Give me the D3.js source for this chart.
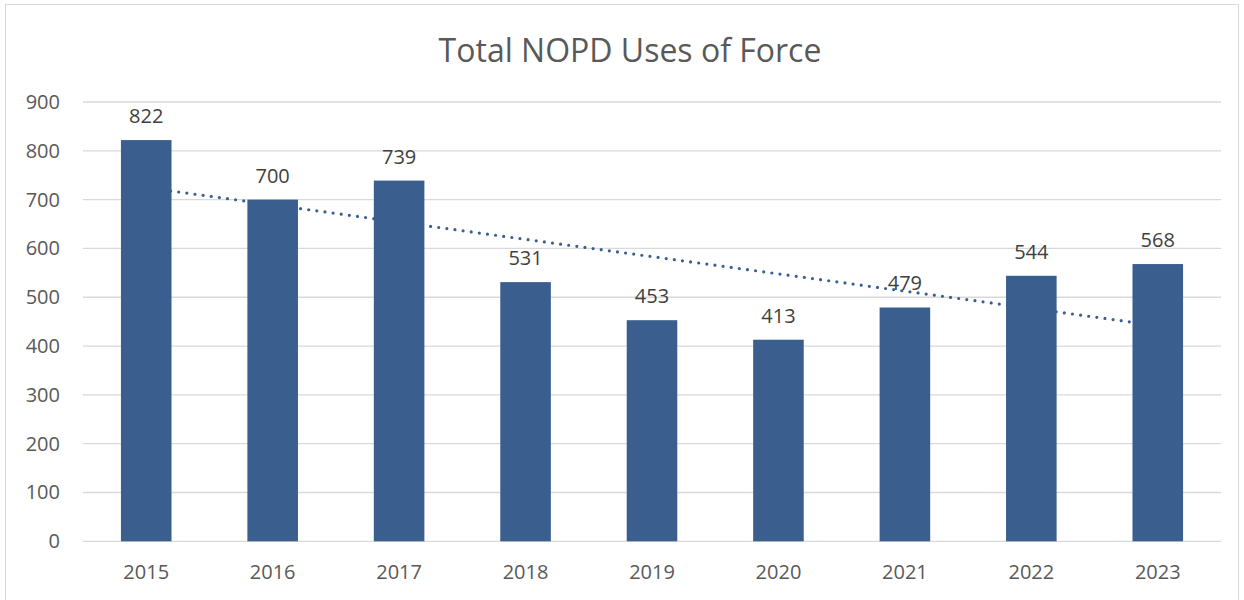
<!DOCTYPE html>
<html><head><meta charset="utf-8">
<script src="https://cdn.jsdelivr.net/npm/d3@7"></script>
<style>body{margin:0;background:#fff}svg{display:block}</style>
</head><body>
<svg id="c" width="1244" height="600"></svg>
<script>
const years = ["2015","2016","2017","2018","2019","2020","2021","2022","2023"];
const uses = [822,700,739,531,453,413,479,544,568];
const yTicks = [0,100,200,300,400,500,600,700,800,900];
const title = "Total NOPD Uses of Force";

const svg = d3.select("#c");
const W = 1244, H = 600;
const m = {left:83, right:1221, top:102, bottom:541.3};
svg.append("rect").attr("x",5.5).attr("y",4.5).attr("width",W-11).attr("height",H-4)
  .attr("fill","#fff").attr("stroke","#d9d9d9").attr("stroke-width",1);

const x = d3.scaleBand().domain(years).range([m.left,m.right]).paddingInner(0.6).paddingOuter(0.3);
const y = d3.scaleLinear().domain([0,900]).range([m.bottom,m.top]);

const font = "'Open Sans', sans-serif";
// grid
svg.append("g").selectAll("line").data(yTicks).join("line")
  .attr("x1",m.left).attr("x2",m.right)
  .attr("y1",d=>y(d)).attr("y2",d=>y(d))
  .attr("stroke","#d9d9d9").attr("stroke-width",1.3);

// y axis labels
const ya = svg.append("g").attr("transform",`translate(${m.left-23},0)`)
  .call(d3.axisLeft(y).tickValues(yTicks).tickSize(0).tickPadding(0));
ya.select(".domain").remove();
ya.selectAll("text").attr("font-family",font).attr("font-size",20).attr("fill","#595959");

// x axis labels
const xa = svg.append("g").attr("transform",`translate(0,${m.bottom+20})`)
  .call(d3.axisBottom(x).tickSize(0).tickPadding(0));
xa.select(".domain").remove();
xa.selectAll("text").attr("font-family",font).attr("font-size",20).attr("fill","#595959").attr("dy","0.9em");

// bars
const color = "#3a5f8f";
svg.append("g").selectAll("rect").data(uses).join("rect")
  .attr("x",(d,i)=>x(years[i])).attr("width",x.bandwidth())
  .attr("y",d=>y(d)).attr("height",d=>y(0)-y(d))
  .attr("fill",color);

// trend line (linear least squares)
const n = uses.length;
const xi = d3.range(n);
const mx = d3.mean(xi), my = d3.mean(uses);
const slope = d3.sum(xi,(v,i)=>(v-mx)*(uses[i]-my)) / d3.sum(xi,v=>(v-mx)*(v-mx));
const icpt = my - slope*mx;
const cx = i => x(years[i]) + x.bandwidth()/2;
svg.append("line")
  .attr("x1",cx(0)).attr("y1",y(icpt))
  .attr("x2",cx(n-1)).attr("y2",y(icpt+slope*(n-1)))
  .attr("stroke",color).attr("stroke-width",3.2)
  .attr("stroke-linecap","round").attr("stroke-dasharray","0,8.2");

// labels
svg.append("g").selectAll("text").data(uses).join("text")
  .attr("x",(d,i)=>cx(i)).attr("y",d=>y(d)-17)
  .attr("text-anchor","middle").attr("font-family",font).attr("font-size",20)
  .attr("fill","#404040").text(d=>d);

// title
svg.append("text").attr("x",630).attr("y",62).attr("text-anchor","middle")
  .attr("font-family",font).attr("font-size",32).attr("fill","#595959").text(title);
</script>
</body></html>
